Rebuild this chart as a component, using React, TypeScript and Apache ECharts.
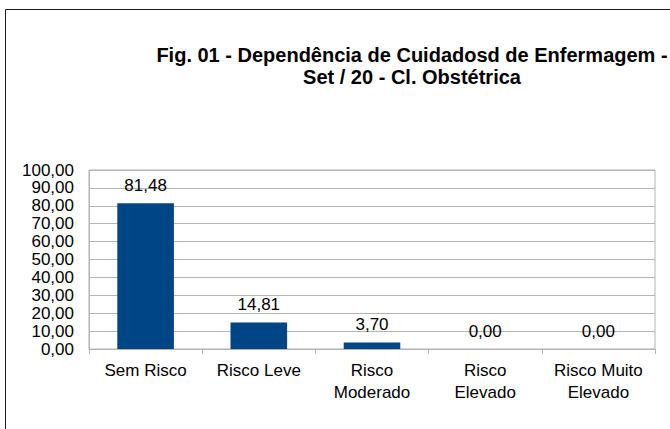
import React, { useEffect, useRef } from "react";
import * as echarts from "echarts";

const categories = ["Sem Risco", "Risco Leve", "Risco\nModerado", "Risco\nElevado", "Risco Muito\nElevado"];
const values = [81.48, 14.81, 3.7, 0.0, 0.0];
const titleLines = ["Fig. 01 - Dependência de Cuidadosd de Enfermagem -", "Set / 20 - Cl. Obstétrica"];
const yMin = 0;
const yMax = 100;
const yInterval = 10;

const fmt = (v: number) => v.toFixed(2).replace(".", ",");

export default function App() {
  const ref = useRef<HTMLDivElement>(null);
  useEffect(() => {
    if (!ref.current) return;
    const chart = echarts.init(ref.current, undefined, { renderer: "svg" });
    const font = "'Liberation Sans', Arial, sans-serif";
    chart.setOption({
      animation: false,
      backgroundColor: "#ffffff",
      title: {
        text: titleLines.join("\n"),
        left: 407,
        top: 39,
        textAlign: "center",
        textStyle: {
          fontFamily: font,
          fontSize: 20,
          fontWeight: "bold",
          color: "#000000",
          lineHeight: 22,
        },
      },
      graphic: [
        {
          type: "rect",
          shape: { x: 5.5, y: 9.5, width: 700, height: 460 },
          style: { fill: "none", stroke: "#1a1a1a", lineWidth: 1 },
          silent: true,
        },
      ],
      grid: {
        left: 89,
        right: 15,
        top: 170,
        bottom: 80,
        show: true,
        borderColor: "#b3b3b3",
        borderWidth: 1,
        containLabel: false,
      },
      xAxis: {
        type: "category",
        data: categories,
        axisLine: { show: true, lineStyle: { color: "#b3b3b3", width: 1 } },
        axisTick: { show: true, alignWithLabel: false, length: 5, inside: false, lineStyle: { color: "#b3b3b3" } },
        axisLabel: {
          fontFamily: font,
          fontSize: 17,
          color: "#000000",
          margin: 10,
          lineHeight: 22,
          interval: 0,
        },
      },
      yAxis: {
        type: "value",
        min: yMin,
        max: yMax,
        interval: yInterval,
        axisLine: { show: true, lineStyle: { color: "#b3b3b3", width: 1 } },
        axisTick: { show: false },
        splitLine: { show: true, lineStyle: { color: "#b3b3b3", width: 1 } },
        axisLabel: {
          fontFamily: font,
          fontSize: 17,
          color: "#000000",
          margin: 15,
          formatter: (v: number) => fmt(v),
        },
      },
      series: [
        {
          type: "bar",
          data: values,
          barWidth: "50%",
          itemStyle: { color: "#004586" },
          label: {
            show: true,
            position: "top",
            distance: 9,
            fontFamily: font,
            fontSize: 17,
            color: "#000000",
            formatter: (p: any) => fmt(p.value),
          },
        },
      ],
    });
    return () => chart.dispose();
  }, []);
  return (
    <div
      ref={ref}
      style={{ position: "fixed", left: 0, top: 0, width: 670, height: 429 }}
    />
  );
}
